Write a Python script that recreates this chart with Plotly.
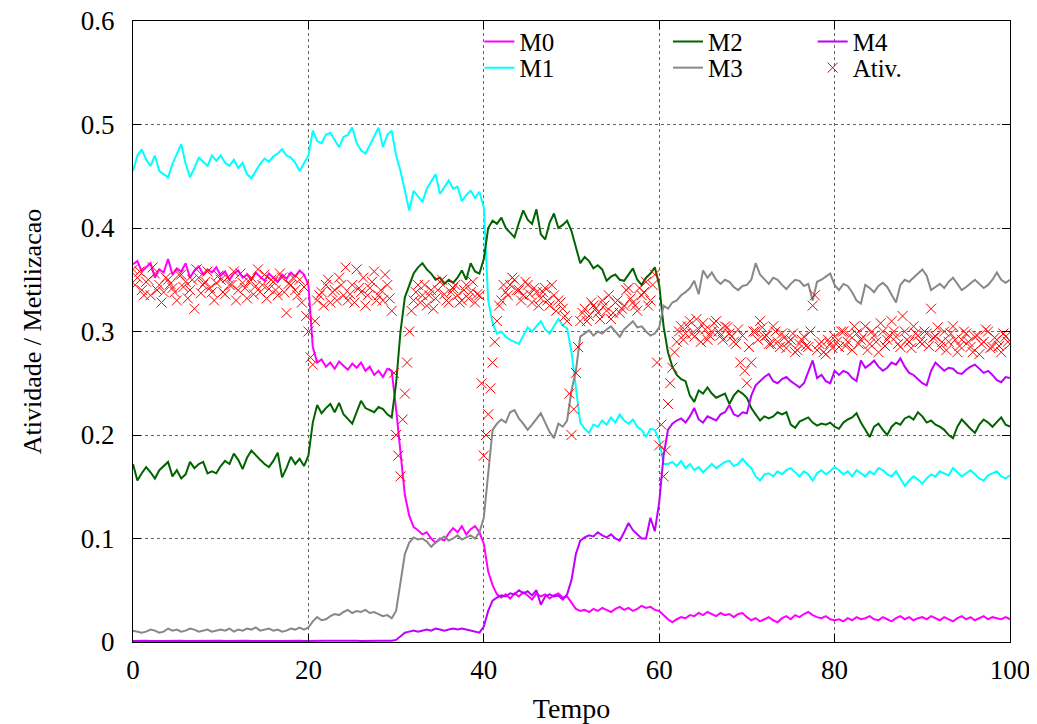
import plotly.graph_objects as go

# time grid: one sample every 0.5 time units, 0 .. 100
tempo = [i * 0.5 for i in range(201)]
# extra activity samples sit between the grid points (0.25, 0.75, ..., 99.75)
tempo_meio = [0.25 + i * 0.5 for i in range(200)]

m0 = [
    0.365, 0.368, 0.358, 0.362, 0.366, 0.352, 0.360, 0.357, 0.370, 0.355, 0.361, 0.358, 0.366, 0.352, 0.359, 0.363, 0.355, 0.360, 0.357, 0.362,
    0.354, 0.358, 0.350, 0.356, 0.359, 0.352, 0.355, 0.350, 0.357, 0.353, 0.349, 0.356, 0.352, 0.348, 0.355, 0.351, 0.357, 0.353, 0.359, 0.355,
    0.345, 0.285, 0.270, 0.273, 0.266, 0.270, 0.264, 0.271, 0.267, 0.263, 0.269, 0.265, 0.270, 0.262, 0.266, 0.258, 0.262, 0.256, 0.264, 0.262,
    0.225, 0.180, 0.142, 0.122, 0.111, 0.108, 0.104, 0.106, 0.100, 0.096, 0.100, 0.098, 0.105, 0.110, 0.106, 0.112, 0.104, 0.109, 0.112, 0.106,
    0.095, 0.068, 0.055, 0.046, 0.043, 0.046, 0.042, 0.047, 0.044, 0.048, 0.045, 0.041, 0.047, 0.044, 0.046, 0.042, 0.045, 0.047, 0.043, 0.044,
    0.038, 0.032, 0.030, 0.031, 0.029, 0.032, 0.030, 0.033, 0.031, 0.029, 0.032, 0.034, 0.031, 0.033, 0.030, 0.032, 0.035, 0.033, 0.034, 0.031,
    0.030, 0.026, 0.022, 0.019, 0.022, 0.024, 0.023, 0.026, 0.025, 0.028, 0.026, 0.029, 0.027, 0.025, 0.028, 0.026, 0.027, 0.024, 0.027, 0.028,
    0.024, 0.021, 0.023, 0.020, 0.022, 0.024, 0.021, 0.019, 0.023, 0.025, 0.022, 0.026, 0.024, 0.027, 0.029, 0.026, 0.024, 0.023, 0.025, 0.022,
    0.021, 0.022, 0.020, 0.023, 0.021, 0.024, 0.022, 0.023, 0.025, 0.022, 0.021, 0.024, 0.022, 0.020, 0.023, 0.025, 0.022, 0.024, 0.021, 0.023,
    0.024, 0.022, 0.025, 0.023, 0.021, 0.024, 0.022, 0.020, 0.023, 0.025, 0.022, 0.024, 0.021, 0.023, 0.025, 0.022, 0.024, 0.023, 0.022, 0.024,
    0.022,
]

m1 = [
    0.455, 0.470, 0.476, 0.466, 0.460, 0.470, 0.455, 0.452, 0.449, 0.462, 0.472, 0.481, 0.462, 0.449, 0.458, 0.468, 0.464, 0.460, 0.470, 0.465,
    0.470, 0.463, 0.460, 0.466, 0.458, 0.463, 0.452, 0.448, 0.455, 0.462, 0.467, 0.464, 0.469, 0.472, 0.476, 0.470, 0.468, 0.463, 0.455, 0.462,
    0.470, 0.494, 0.484, 0.482, 0.490, 0.492, 0.485, 0.478, 0.488, 0.490, 0.497, 0.482, 0.475, 0.472, 0.480, 0.488, 0.497, 0.478, 0.490, 0.494,
    0.470, 0.455, 0.435, 0.417, 0.436, 0.430, 0.425, 0.438, 0.445, 0.452, 0.433, 0.440, 0.446, 0.438, 0.440, 0.426, 0.432, 0.436, 0.429, 0.435,
    0.420, 0.330, 0.308, 0.298, 0.300, 0.295, 0.292, 0.290, 0.288, 0.296, 0.304, 0.300, 0.305, 0.310, 0.302, 0.298, 0.305, 0.312, 0.306, 0.303,
    0.280, 0.245, 0.212, 0.206, 0.202, 0.210, 0.208, 0.214, 0.210, 0.217, 0.212, 0.220, 0.214, 0.211, 0.215, 0.208, 0.205, 0.198, 0.206, 0.205,
    0.195, 0.172, 0.172, 0.174, 0.170, 0.175, 0.168, 0.172, 0.166, 0.169, 0.164, 0.168, 0.172, 0.168, 0.171, 0.174, 0.175, 0.170, 0.172, 0.177,
    0.172, 0.168, 0.160, 0.156, 0.162, 0.163, 0.160, 0.165, 0.162, 0.166, 0.168, 0.164, 0.160, 0.165, 0.162, 0.156, 0.163, 0.166, 0.162, 0.165,
    0.169, 0.166, 0.162, 0.165, 0.160, 0.166, 0.163, 0.160, 0.165, 0.162, 0.168, 0.166, 0.162, 0.160, 0.165, 0.158, 0.151, 0.156, 0.160, 0.157,
    0.153, 0.158, 0.162, 0.160, 0.165, 0.163, 0.161, 0.168, 0.164, 0.160, 0.163, 0.166, 0.162, 0.158, 0.156, 0.161, 0.163, 0.165, 0.160, 0.158,
    0.161,
]

m2 = [
    0.172, 0.156, 0.163, 0.169, 0.164, 0.158, 0.166, 0.170, 0.174, 0.160, 0.166, 0.158, 0.162, 0.174, 0.168, 0.172, 0.174, 0.163, 0.165, 0.163,
    0.170, 0.175, 0.172, 0.182, 0.176, 0.167, 0.178, 0.185, 0.180, 0.176, 0.172, 0.169, 0.175, 0.183, 0.159, 0.168, 0.179, 0.172, 0.177, 0.170,
    0.180, 0.212, 0.229, 0.221, 0.226, 0.230, 0.222, 0.231, 0.220, 0.216, 0.211, 0.222, 0.233, 0.226, 0.224, 0.222, 0.227, 0.225, 0.220, 0.217,
    0.250, 0.300, 0.333, 0.345, 0.356, 0.362, 0.366, 0.360, 0.356, 0.350, 0.352, 0.346, 0.350, 0.347, 0.352, 0.359, 0.350, 0.366, 0.358, 0.356,
    0.370, 0.400, 0.407, 0.404, 0.410, 0.400, 0.395, 0.391, 0.405, 0.417, 0.408, 0.404, 0.418, 0.394, 0.389, 0.405, 0.414, 0.400, 0.403, 0.407,
    0.397, 0.380, 0.366, 0.372, 0.368, 0.361, 0.364, 0.360, 0.349, 0.353, 0.355, 0.350, 0.349, 0.355, 0.361, 0.350, 0.345, 0.352, 0.356, 0.362,
    0.345, 0.305, 0.280, 0.266, 0.258, 0.254, 0.252, 0.238, 0.232, 0.243, 0.240, 0.246, 0.240, 0.236, 0.238, 0.240, 0.230, 0.238, 0.243, 0.240,
    0.236, 0.226, 0.220, 0.214, 0.218, 0.216, 0.218, 0.222, 0.220, 0.222, 0.210, 0.207, 0.213, 0.215, 0.217, 0.212, 0.209, 0.211, 0.210, 0.212,
    0.208, 0.206, 0.212, 0.215, 0.217, 0.221, 0.212, 0.205, 0.198, 0.208, 0.211, 0.205, 0.200, 0.208, 0.212, 0.210, 0.216, 0.218, 0.215, 0.222,
    0.218, 0.212, 0.214, 0.210, 0.208, 0.205, 0.200, 0.197, 0.208, 0.215, 0.210, 0.206, 0.202, 0.210, 0.215, 0.212, 0.208, 0.213, 0.217, 0.210,
    0.208,
]

m3 = [
    0.011, 0.010, 0.009, 0.010, 0.012, 0.011, 0.009, 0.010, 0.013, 0.011, 0.012, 0.010, 0.011, 0.013, 0.012, 0.010, 0.011, 0.012, 0.010, 0.011,
    0.012, 0.011, 0.013, 0.010, 0.012, 0.011, 0.013, 0.012, 0.014, 0.011, 0.012, 0.013, 0.011, 0.012, 0.010, 0.011, 0.013, 0.012, 0.014, 0.012,
    0.014, 0.020, 0.024, 0.021, 0.022, 0.025, 0.027, 0.026, 0.029, 0.031, 0.028, 0.030, 0.029, 0.031, 0.028, 0.029, 0.027, 0.025, 0.026, 0.023,
    0.030, 0.060, 0.085, 0.096, 0.101, 0.099, 0.100, 0.097, 0.092, 0.096, 0.099, 0.102, 0.098, 0.100, 0.103, 0.099, 0.101, 0.103, 0.100, 0.106,
    0.120, 0.165, 0.205, 0.211, 0.215, 0.212, 0.222, 0.224, 0.216, 0.211, 0.205, 0.210, 0.215, 0.221, 0.212, 0.203, 0.197, 0.211, 0.208, 0.214,
    0.243, 0.262, 0.295, 0.298, 0.301, 0.296, 0.300, 0.298, 0.302, 0.305, 0.300, 0.295, 0.302, 0.306, 0.310, 0.304, 0.305, 0.300, 0.296, 0.298,
    0.304, 0.325, 0.322, 0.328, 0.330, 0.335, 0.338, 0.342, 0.349, 0.336, 0.359, 0.352, 0.357, 0.350, 0.346, 0.350, 0.348, 0.343, 0.340, 0.344,
    0.345, 0.350, 0.366, 0.355, 0.350, 0.346, 0.352, 0.350, 0.345, 0.341, 0.346, 0.350, 0.349, 0.344, 0.346, 0.330, 0.348, 0.350, 0.353, 0.356,
    0.345, 0.340, 0.346, 0.344, 0.338, 0.330, 0.327, 0.345, 0.342, 0.338, 0.344, 0.347, 0.343, 0.336, 0.328, 0.345, 0.350, 0.348, 0.352, 0.356,
    0.360, 0.354, 0.340, 0.343, 0.346, 0.342, 0.348, 0.352, 0.346, 0.340, 0.343, 0.347, 0.350, 0.346, 0.342, 0.345, 0.350, 0.357, 0.350, 0.347,
    0.350,
]

m4 = [
    0.0010, 0.0012, 0.0009, 0.0011, 0.0010, 0.0013, 0.0010, 0.0009, 0.0011, 0.0012, 0.0010, 0.0011, 0.0009, 0.0010, 0.0012, 0.0011, 0.0010, 0.0009, 0.0011, 0.0010,
    0.0011, 0.0010, 0.0012, 0.0009, 0.0010, 0.0011, 0.0013, 0.0010, 0.0011, 0.0009, 0.0010, 0.0012, 0.0011, 0.0010, 0.0009, 0.0011, 0.0012, 0.0010, 0.0011, 0.0010,
    0.0012, 0.0011, 0.0010, 0.0012, 0.0013, 0.0011, 0.0012, 0.0010, 0.0011, 0.0013, 0.0012, 0.0011, 0.0010, 0.0012, 0.0011, 0.0013, 0.0012, 0.0011, 0.0010, 0.0012,
    0.002, 0.006, 0.009, 0.010, 0.011, 0.010, 0.011, 0.012, 0.011, 0.013, 0.012, 0.011, 0.012, 0.013, 0.012, 0.013, 0.012, 0.011, 0.010, 0.009,
    0.015, 0.030, 0.040, 0.043, 0.045, 0.044, 0.047, 0.046, 0.050, 0.047, 0.049, 0.045, 0.050, 0.036, 0.044, 0.046, 0.044, 0.045, 0.041, 0.046,
    0.060, 0.085, 0.098, 0.101, 0.103, 0.102, 0.106, 0.103, 0.101, 0.104, 0.100, 0.098, 0.106, 0.115, 0.108, 0.104, 0.100, 0.100, 0.120, 0.107,
    0.135, 0.180, 0.205, 0.211, 0.214, 0.216, 0.212, 0.218, 0.226, 0.215, 0.212, 0.218, 0.216, 0.214, 0.220, 0.222, 0.229, 0.220, 0.218, 0.222,
    0.221, 0.238, 0.248, 0.252, 0.256, 0.259, 0.252, 0.250, 0.254, 0.256, 0.252, 0.249, 0.246, 0.250, 0.262, 0.272, 0.255, 0.258, 0.252, 0.250,
    0.262, 0.258, 0.262, 0.260, 0.255, 0.252, 0.272, 0.265, 0.268, 0.272, 0.266, 0.262, 0.265, 0.270, 0.268, 0.274, 0.266, 0.260, 0.258, 0.254,
    0.250, 0.248, 0.262, 0.270, 0.266, 0.262, 0.265, 0.264, 0.260, 0.259, 0.263, 0.266, 0.268, 0.264, 0.260, 0.262, 0.258, 0.253, 0.251, 0.256,
    0.255,
]

ativ = [
    0.360, 0.352, 0.340, 0.348, 0.335, 0.356, 0.345, 0.338, 0.350, 0.342, 0.330, 0.355, 0.348, 0.340, 0.322, 0.352, 0.345, 0.358, 0.338, 0.347,
    0.350, 0.336, 0.345, 0.358, 0.340, 0.347, 0.332, 0.352, 0.344, 0.338, 0.355, 0.341, 0.348, 0.335, 0.352, 0.318, 0.345, 0.340, 0.350, 0.343,
    0.300, 0.268, 0.330, 0.338, 0.345, 0.328, 0.340, 0.352, 0.335, 0.330, 0.345, 0.360, 0.338, 0.325, 0.342, 0.358, 0.335, 0.330, 0.345, 0.320,
    0.200, 0.160, 0.240, 0.300, 0.330, 0.345, 0.335, 0.325, 0.340, 0.332, 0.348, 0.336, 0.328, 0.342, 0.335, 0.330, 0.345, 0.338, 0.328, 0.335,
    0.180, 0.220, 0.270, 0.310, 0.330, 0.338, 0.345, 0.350, 0.340, 0.335, 0.345, 0.328, 0.338, 0.332, 0.342, 0.325, 0.335, 0.330, 0.322, 0.310,
    0.200, 0.260, 0.310, 0.322, 0.315, 0.325, 0.318, 0.330, 0.320, 0.312, 0.328, 0.318, 0.325, 0.342, 0.328, 0.320, 0.335, 0.348, 0.330, 0.355,
    0.190, 0.160, 0.230, 0.265, 0.290, 0.305, 0.298, 0.310, 0.295, 0.302, 0.308, 0.292, 0.300, 0.310, 0.296, 0.305, 0.298, 0.290, 0.302, 0.296,
    0.250, 0.270, 0.300, 0.310, 0.295, 0.288, 0.305, 0.290, 0.298, 0.284, 0.292, 0.280, 0.288, 0.295, 0.285, 0.325, 0.282, 0.290, 0.278, 0.288,
    0.295, 0.285, 0.300, 0.290, 0.282, 0.298, 0.292, 0.305, 0.288, 0.296, 0.280, 0.300, 0.292, 0.310, 0.295, 0.285, 0.300, 0.290, 0.305, 0.296,
    0.288, 0.298, 0.322, 0.295, 0.285, 0.300, 0.290, 0.305, 0.280, 0.292, 0.298, 0.285, 0.295, 0.278, 0.290, 0.300, 0.285, 0.292, 0.280, 0.295,
    0.288,
]

ativ_meio = [
    0.345, 0.358, 0.335, 0.350, 0.362, 0.340, 0.328, 0.352, 0.346, 0.338, 0.355, 0.343, 0.332, 0.350, 0.360, 0.337, 0.348, 0.342, 0.330, 0.354,
    0.338, 0.352, 0.345, 0.330, 0.356, 0.342, 0.348, 0.336, 0.360, 0.345, 0.332, 0.350, 0.340, 0.356, 0.338, 0.346, 0.352, 0.335, 0.328, 0.315,
    0.275, 0.310, 0.335, 0.325, 0.350, 0.338, 0.330, 0.345, 0.362, 0.336, 0.328, 0.342, 0.352, 0.335, 0.348, 0.330, 0.340, 0.355, 0.332, 0.260,
    0.180, 0.215, 0.270, 0.320, 0.338, 0.328, 0.345, 0.335, 0.322, 0.340, 0.350, 0.330, 0.338, 0.345, 0.328, 0.340, 0.332, 0.348, 0.336, 0.250,
    0.200, 0.245, 0.290, 0.325, 0.345, 0.335, 0.352, 0.340, 0.330, 0.348, 0.336, 0.342, 0.325, 0.338, 0.330, 0.345, 0.320, 0.328, 0.315, 0.240,
    0.225, 0.285, 0.318, 0.310, 0.328, 0.322, 0.312, 0.325, 0.335, 0.318, 0.330, 0.322, 0.340, 0.332, 0.325, 0.342, 0.338, 0.325, 0.345, 0.270,
    0.210, 0.185, 0.250, 0.280, 0.300, 0.292, 0.305, 0.298, 0.312, 0.290, 0.302, 0.296, 0.308, 0.300, 0.292, 0.304, 0.295, 0.288, 0.270, 0.262,
    0.285, 0.300, 0.292, 0.304, 0.296, 0.288, 0.300, 0.285, 0.294, 0.290, 0.298, 0.282, 0.292, 0.286, 0.300, 0.335, 0.288, 0.280, 0.292, 0.284,
    0.290, 0.300, 0.286, 0.296, 0.305, 0.288, 0.295, 0.282, 0.300, 0.290, 0.308, 0.286, 0.296, 0.300, 0.288, 0.315, 0.292, 0.284, 0.298, 0.290,
    0.300, 0.286, 0.294, 0.304, 0.290, 0.282, 0.298, 0.292, 0.286, 0.300, 0.290, 0.280, 0.296, 0.288, 0.302, 0.284, 0.294, 0.286, 0.298, 0.290,
]

x_ticks = [0, 20, 40, 60, 80, 100]
y_ticks = [0, 0.1, 0.2, 0.3, 0.4, 0.5, 0.6]

FONT = "Liberation Serif, Times New Roman, serif"

# each key gets its own one-item legend, laid out as 3 columns x 2 rows
series = [
    ("M0", m0, "#ff00ff", "legend"),
    ("M1", m1, "#00ffff", "legend2"),
    ("M2", m2, "#006400", "legend3"),
    ("M3", m3, "#888888", "legend4"),
    ("M4", m4, "#c000ff", "legend5"),
]

fig = go.Figure()
for name, vals, color, leg in series:
    fig.add_trace(
        go.Scatter(
            x=tempo,
            y=vals,
            mode="lines",
            name=name,
            line=dict(color=color, width=2),
            legend=leg,
        )
    )

fig.add_trace(
    go.Scatter(
        x=tempo + tempo_meio,
        y=ativ + ativ_meio,
        mode="markers",
        name="Ativ.",
        marker=dict(symbol="x-thin", size=10, line=dict(color="#ff0000", width=1), color="#ff0000"),
        legend="legend6",
    )
)

leg_style = dict(
    font=dict(family=FONT, size=25, color="black"),
    bgcolor="rgba(0,0,0,0)",
    yanchor="middle",
    xanchor="left",
)
col_x = [0.395, 0.61, 0.775]
row_y = [0.965, 0.923]

# the page body adds an 8px offset, so the figure is 8px smaller and margins shifted
fig.update_layout(
    width=1029,
    height=716,
    margin=dict(l=125, r=27, t=12, b=82),
    plot_bgcolor="white",
    paper_bgcolor="white",
    font=dict(family=FONT, size=27, color="black"),
    showlegend=True,
    legend=dict(x=col_x[0], y=row_y[0], **leg_style),
    legend2=dict(x=col_x[0], y=row_y[1], **leg_style),
    legend3=dict(x=col_x[1], y=row_y[0], **leg_style),
    legend4=dict(x=col_x[1], y=row_y[1], **leg_style),
    legend5=dict(x=col_x[2], y=row_y[0], **leg_style),
    legend6=dict(x=col_x[2], y=row_y[1], **leg_style),
)

axis_style = dict(
    showline=True,
    linecolor="black",
    linewidth=1,
    mirror="ticks",
    ticks="inside",
    ticklen=8,
    tickcolor="black",
    showgrid=True,
    gridcolor="#666666",
    griddash="dot",
    gridwidth=1,
    zeroline=False,
    automargin=False,
    ticklabeloverflow="allow",
    tickfont=dict(family=FONT, size=27),
)

fig.update_xaxes(
    range=[0, 100],
    tickvals=x_ticks,
    ticklabelstandoff=4,
    title=dict(text="Tempo", font=dict(family=FONT, size=28), standoff=20),
    **axis_style,
)
fig.update_yaxes(
    range=[0, 0.6],
    tickvals=y_ticks,
    ticktext=["0", "0.1", "0.2", "0.3", "0.4", "0.5", "0.6"],
    ticklabelstandoff=12,
    title=dict(text="Atividade / Metilizacao", font=dict(family=FONT, size=26), standoff=31),
    **axis_style,
)

fig.write_html("out.html")
